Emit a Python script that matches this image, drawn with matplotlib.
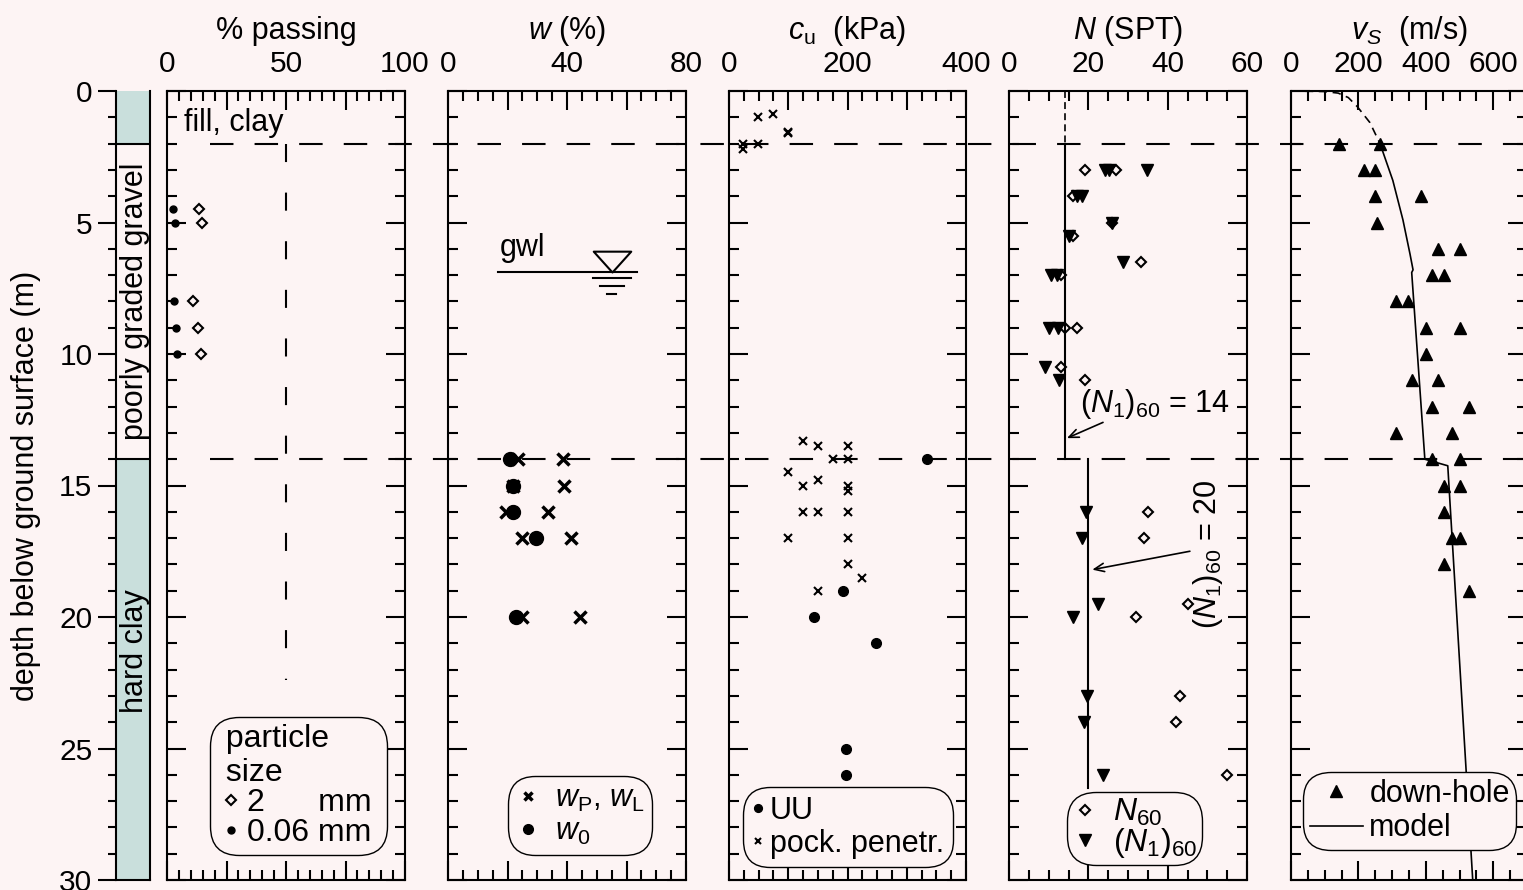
import numpy as np
import matplotlib
matplotlib.use('Agg')
import matplotlib.pyplot as plt
from matplotlib.lines import Line2D
from matplotlib.path import Path
from matplotlib.ticker import MultipleLocator, FuncFormatter
from matplotlib.transforms import blended_transform_factory

plt.rcParams['font.family'] = ['Liberation Sans', 'DejaVu Sans']
plt.rcParams['mathtext.fontset'] = 'custom'
plt.rcParams['mathtext.rm'] = 'Liberation Sans'
plt.rcParams['mathtext.it'] = 'Liberation Sans:italic'
plt.rcParams['mathtext.bf'] = 'Liberation Sans:bold'
plt.rcParams['lines.scale_dashes'] = False

BG = '#fdf4f4'
SOIL = '#c9dfdc'
FS = 22
LFS = 23

# soil profile
layer_top = [0, 2, 14]
layer_bot = [2, 14, 30]
layer_filled = [True, False, True]
boundaries = [2, 14]

# % passing
pass_depth = [4.5, 5, 8, 9, 10]
pass_2mm = [13.6, 14.6, 10.9, 13.0, 14.3]
pass_006 = [2.5, 3.4, 2.9, 3.8, 4.2]
pass_ref = 50
pass_ref_depth = [2, 22.4]

# water content
wl_depth = [14, 15, 16, 17, 20]
w_p = [23.5, 21.8, 19.5, 24.8, 24.8]
w_l = [38.7, 39.0, 33.6, 41.3, 44.4]
w_0 = [20.8, 21.8, 21.8, 29.6, 22.9]
gwl_depth = 6.9
gwl_span = [16.8, 63.5]
gwl_sym = 55.1

# undrained shear strength
pp_depth = [1.0, 0.88, 1.55, 1.6, 2.0, 2.2, 2.0, 13.3, 13.5, 13.5, 14.0, 14.0,
            14.5, 15.0, 14.8, 15.0, 15.2, 16.0, 16.0, 16.0, 17.0, 17.0, 18.0,
            18.5, 19.0]
pp_cu = [49, 75, 100, 100, 24, 24, 49, 125, 150, 200, 175, 200,
         100, 125, 150, 200, 200, 125, 150, 200, 100, 200, 200,
         224, 150]
uu_depth = [14, 19, 20, 21, 25, 26]
uu_cu = [334, 192, 144, 248, 197, 197]

# SPT
n60_depth = [3, 3, 4, 5, 5.5, 6.5, 7, 9, 9, 10.5, 11, 16, 17, 19.5, 20, 23, 24, 26]
n60 = [19.2, 27.0, 16.1, 26.0, 16.2, 33.3, 13.1, 14.2, 17.1, 13.1, 19.2,
       35.0, 34.0, 45.1, 32.0, 43.1, 42.0, 55.0]
n160_depth = [3, 3, 3, 4, 4, 5, 5.5, 6.5, 7, 7, 9, 9, 10.5, 11, 16, 17, 19.5,
              20, 23, 24, 26]
n160 = [24.2, 25.3, 34.8, 17.2, 18.5, 26.0, 15.2, 28.8, 10.6, 12.0, 10.0, 12.4,
        9.1, 12.6, 19.4, 18.4, 22.4, 16.1, 19.6, 19.0, 23.8]
n_ref = [14, 20]
n_ref_top = [2, 14]
n_ref_bot = [14, 26.5]

# shear wave velocity
vs_depth = [2, 2, 3, 3, 4, 4, 5, 6, 6, 7, 7, 8, 8, 9, 9, 10, 11, 11, 12, 12,
            13, 13, 14, 14, 15, 15, 16, 17, 17, 18, 19]
vs_meas = [142, 264, 216, 249, 249, 385, 254, 435, 500, 417, 453, 311, 346,
           400, 500, 400, 358, 435, 417, 527, 311, 477, 417, 500, 453, 500,
           453, 477, 500, 453, 527]
model_fill_depth = [0, 0.02, 0.08, 0.25, 0.6, 1.2, 2.0]
model_fill_vs = [0, 100, 140, 170, 197, 234, 264]
model_depth = [2, 3.4, 4.9, 6.2, 6.8, 6.9, 14.0, 14.25, 30]
model_vs = [264, 302, 332, 353, 362, 358, 397, 465, 539]

W, H = 1523, 890
fig = plt.figure(figsize=(W / 100, H / 100), dpi=100, facecolor=BG)


def box(x0, x1):
    return [x0 / W, 10 / H, (x1 - x0) / W, 789 / H]


def style_panel(ax, xmax, major, minor, label_step, title):
    ax.set_xlim(0, xmax)
    ax.set_ylim(30, 0)
    ax.set_facecolor(BG)
    ax.xaxis.set_major_locator(MultipleLocator(major))
    ax.xaxis.set_minor_locator(MultipleLocator(minor))
    ax.xaxis.set_major_formatter(FuncFormatter(
        lambda v, p: f'{v:g}' if abs(v / label_step - round(v / label_step)) < 1e-6 else ''))
    ax.yaxis.set_major_locator(MultipleLocator(5))
    ax.yaxis.set_minor_locator(MultipleLocator(1))
    ax.tick_params(which='both', direction='in', top=True, bottom=True, left=True,
                   right=True, labeltop=True, labelbottom=False, labelleft=False,
                   width=1.5, labelsize=FS - 0.5, pad=9)
    ax.tick_params(which='major', length=14)
    ax.tick_params(which='minor', length=7)
    for s in ax.spines.values():
        s.set_linewidth(1.5)
    ax.set_title(title, fontsize=FS, y=1.0 + 52 / 789, pad=0)


def style_legend(leg):
    fr = leg.get_frame()
    fr.set_boxstyle('round', pad=0, rounding_size=0.9)
    fr.set_facecolor(BG)
    fr.set_edgecolor('black')
    fr.set_linewidth(1.0)
    fr.set_alpha(1)


# soil column
axc = fig.add_axes(box(116, 150))
axc.set_xlim(0, 1)
axc.set_ylim(30, 0)
axc.set_facecolor(BG)
for t, b, f in zip(layer_top, layer_bot, layer_filled):
    if f:
        axc.axhspan(t, b, color=SOIL, lw=0)
for d in boundaries:
    axc.axhline(d, color='black', lw=1.5)
axc.set_xticks([])
axc.yaxis.set_major_locator(MultipleLocator(5))
axc.yaxis.set_minor_locator(MultipleLocator(1))
axc.tick_params(which='both', direction='out', width=1.5, labelsize=FS - 0.5, pad=4)
axc.tick_params(which='major', length=13)
axc.tick_params(which='minor', length=6)
axc.spines['top'].set_visible(False)
for s in ['left', 'right', 'bottom']:
    axc.spines[s].set_linewidth(1.5)
axc.text(0.55, 8.0, 'poorly graded gravel', rotation=90,
         ha='center', va='center', fontsize=FS)
axc.text(0.55, 21.3, 'hard clay', rotation=90, ha='center', va='center', fontsize=FS)
axc.set_ylabel('depth below ground surface (m)', fontsize=FS)
axc.yaxis.set_label_coords(-2.2, 0.5)

# % passing
ax1 = fig.add_axes(box(167, 405))
style_panel(ax1, 100, 25, 5, 50, '% passing')
ax1.plot([pass_ref, pass_ref], pass_ref_depth, color='black', lw=1.5,
         ls=(0, (13, 22)))
ax1.plot(pass_2mm, pass_depth, 'D', ms=5, mfc='none', mec='black', mew=1.5,
         label='2' + ' ' * 6 + 'mm ')
ax1.plot(pass_006, pass_depth, 'o', ms=5, color='black', label='0.06 mm ')
ax1.text(7.1, 1.2, 'fill, clay', fontsize=FS, va='center')
leg = ax1.legend(title=' particle\n size', loc='lower right', bbox_to_anchor=(0.924, 0.032),
                 borderaxespad=0, fontsize=LFS, title_fontsize=LFS, alignment='left',
                 handlelength=0.9, handletextpad=0.05, labelspacing=0.0,
                 borderpad=0.2, fancybox=True)
style_legend(leg)

# water content
ax2 = fig.add_axes(box(448, 686))
style_panel(ax2, 80, 20, 5, 40, '$w$ (%)')
ax2.plot(w_p + w_l, wl_depth + wl_depth, 'x', ms=8, mew=2.5, color='black',
         label=r'$w_{\mathrm{P}}$, $w_{\mathrm{L}}$')
ax2.plot(w_0, wl_depth, 'o', ms=10, color='black', label='$w_0$')
ax2.plot(gwl_span, [gwl_depth, gwl_depth], color='black', lw=1.5)
tri = Path([(-0.9, 1), (0.9, 1), (0, 0), (-0.9, 1)],
           [Path.MOVETO, Path.LINETO, Path.LINETO, Path.CLOSEPOLY])
ax2.plot([gwl_sym], [gwl_depth], marker=tri, ms=30, mfc='none', mec='black', mew=1.5)
for half, off in zip([6.5, 3.9, 1.5], [0.22, 0.52, 0.8]):
    ax2.plot([gwl_sym - half, gwl_sym + half], [gwl_depth + off] * 2, color='black', lw=1.5)
ax2.text(gwl_span[0] + 0.5, gwl_depth - 0.35, 'gwl', fontsize=FS, va='bottom')
leg = ax2.legend(loc='lower right', bbox_to_anchor=(0.857, 0.032), borderaxespad=0,
                 fontsize=FS, handlelength=0.8, handletextpad=0.5, labelspacing=0.1,
                 borderpad=0.25, markerscale=0.7)
style_legend(leg)

# undrained shear strength
ax3 = fig.add_axes(box(729, 966))
style_panel(ax3, 400, 100, 25, 200, r'$c_{\mathrm{u}}$  (kPa)')
ax3.plot(uu_cu, uu_depth, 'o', ms=7, color='black', label='UU')
ax3.plot(pp_cu, pp_depth, 'x', ms=5.5, mew=1.5, color='black', label='pock. penetr.')
leg = ax3.legend(loc='lower left', bbox_to_anchor=(0.059, 0.016), borderaxespad=0,
                 fontsize=FS, handlelength=0.4, handletextpad=0.2, labelspacing=0.1,
                 borderpad=0.28, markerscale=0.8)
style_legend(leg)

# SPT
ax4 = fig.add_axes(box(1009, 1247))
style_panel(ax4, 60, 20, 5, 20, '$N$ (SPT)')
ax4.plot([n_ref[0]] * 2, [0, n_ref_top[0]], color='black', lw=1.2, ls=(0, (5, 3)))
for v, t, b in zip(n_ref, n_ref_top, n_ref_bot):
    ax4.plot([v, v], [t, b], color='black', lw=1.5)
ax4.plot(n60, n60_depth, 'D', ms=5.5, mfc='none', mec='black', mew=1.5, label='$N_{60}$')
ax4.plot(n160, n160_depth, 'v', ms=9, color='black', label='$(N_1)_{60}$')
ax4.annotate('', xy=(n_ref[0] + 0.6, 13.2), xytext=(23.7, 12.6),
             arrowprops=dict(arrowstyle='->, head_length=0.7, head_width=0.3', lw=1.2,
                             color='black', shrinkA=0, shrinkB=0))
ax4.text(17.9, 11.9, '$(N_1)_{60}$ = 14', fontsize=FS, va='center')
ax4.annotate('', xy=(n_ref[1] + 1.0, 18.2), xytext=(45.6, 17.5),
             arrowprops=dict(arrowstyle='->, head_length=0.7, head_width=0.3', lw=1.2,
                             color='black', shrinkA=0, shrinkB=0))
ax4.text(50.2, 17.6, '$(N_1)_{60}$ = 20', fontsize=FS, rotation=90,
         ha='center', va='center')
leg = ax4.legend(loc='lower left', bbox_to_anchor=(0.244, 0.019), borderaxespad=0,
                 fontsize=LFS, handlelength=0.8, handletextpad=0.5, labelspacing=-0.05,
                 borderpad=0.15)
style_legend(leg)

# shear wave velocity
ax5 = fig.add_axes(box(1291, 1527))
style_panel(ax5, 700, 200, 50, 200, r'$v_S$  (m/s)')
ax5.plot(model_fill_vs, model_fill_depth, color='black', lw=1.2, ls=(0, (6, 4)))
ax5.plot(vs_meas, vs_depth, '^', ms=8, color='black', lw=0, label='down-hole')
ax5.plot(model_vs, model_depth, color='black', lw=1.2, label='model')
leg = ax5.legend(loc='lower left', bbox_to_anchor=(0.051, 0.038), borderaxespad=0,
                 fontsize=FS, handlelength=1.75, handletextpad=0.2, labelspacing=0.15,
                 borderpad=0.22)
style_legend(leg)

# layer boundaries running across all panels
tr = blended_transform_factory(fig.transFigure, axc.transData)
for d in boundaries:
    fig.add_artist(Line2D([210 / W, 1.0], [d, d], transform=tr, color='black', lw=1.5,
                          ls=(0, (16.9, 15.2))))

fig.savefig('out.png', dpi=100, facecolor=BG)
